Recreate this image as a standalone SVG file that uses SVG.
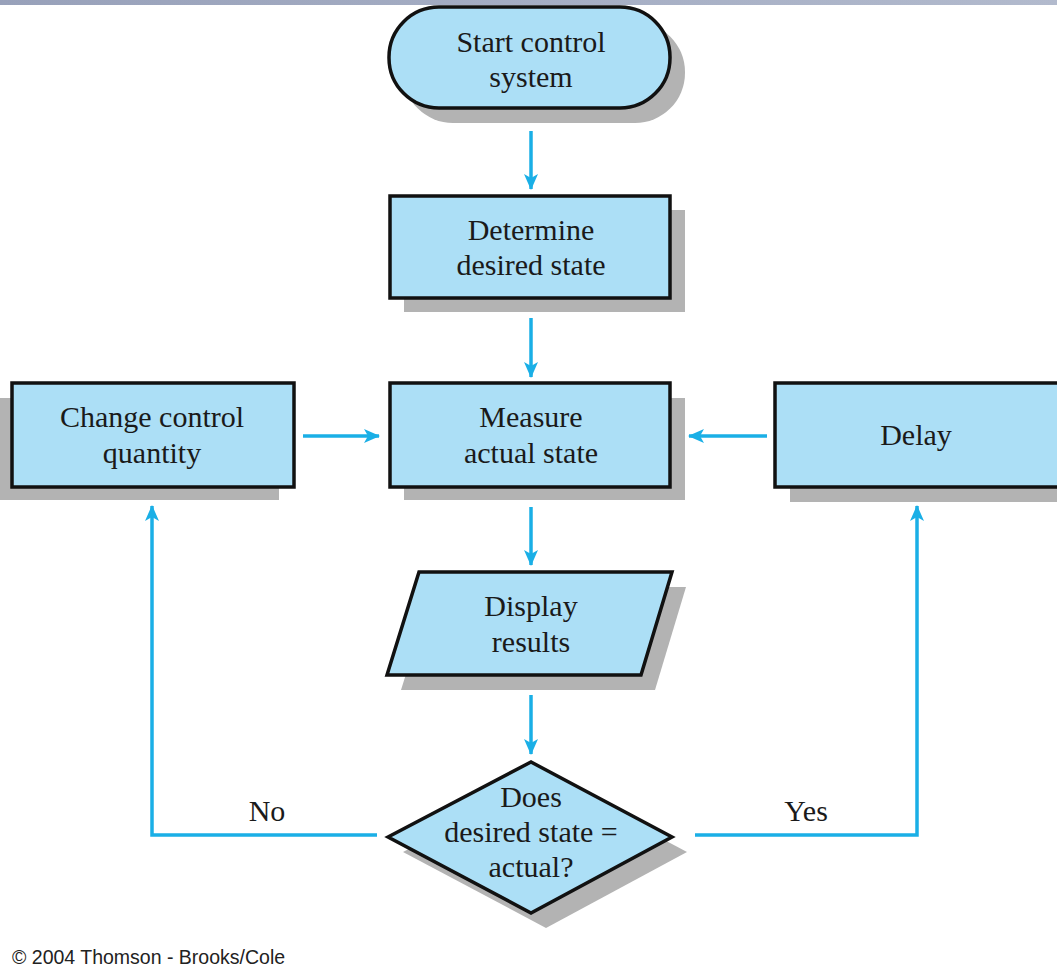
<svg xmlns="http://www.w3.org/2000/svg" width="1057" height="968" viewBox="0 0 1057 968">
<defs>
<linearGradient id="bar" x1="0" y1="0" x2="1" y2="0">
<stop offset="0" stop-color="#98a1ba"/>
<stop offset="1" stop-color="#b2bacd"/>
</linearGradient>
<marker id="ah" viewBox="0 0 16 14" refX="15" refY="7" markerWidth="17" markerHeight="14" markerUnits="userSpaceOnUse" orient="auto">
<path d="M0,0 L16,7 L0,14 L4,7 Z" fill="#1aafe6"/>
</marker>
<style>
.sh{fill:#b3b3b3;}
.nd{fill:#acdff6;stroke:#111;stroke-width:3.5;}
.t{font-family:"Liberation Serif","Times New Roman",serif;font-size:30px;fill:#1a1a1a;text-anchor:middle;}
.c{fill:none;stroke:#1aafe6;stroke-width:3.5;marker-end:url(#ah);}
</style>
</defs>
<rect x="0" y="0" width="1057" height="5" fill="url(#bar)"/>

<g id="start">
<rect class="sh" x="403" y="22" width="282" height="101" rx="50"/>
<rect class="nd" x="389" y="7" width="281" height="101" rx="50"/>
<text class="t" x="531" y="52">Start control</text>
<text class="t" x="531" y="87">system</text>
</g>

<g id="determine">
<rect class="sh" x="404" y="210" width="281" height="102"/>
<rect class="nd" x="390" y="196" width="280" height="102"/>
<text class="t" x="531" y="240">Determine</text>
<text class="t" x="531" y="275">desired state</text>
</g>

<g id="change">
<rect class="sh" x="-3" y="398" width="282" height="102"/>
<rect class="nd" x="12" y="383" width="282" height="104"/>
<text class="t" x="152" y="427">Change control</text>
<text class="t" x="152" y="463">quantity</text>
</g>

<g id="measure">
<rect class="sh" x="404" y="398" width="281" height="102"/>
<rect class="nd" x="390" y="383" width="280" height="104"/>
<text class="t" x="531" y="427">Measure</text>
<text class="t" x="531" y="463">actual state</text>
</g>

<g id="delay">
<rect class="sh" x="790" y="398" width="280" height="104"/>
<rect class="nd" x="775" y="383" width="290" height="104"/>
<text class="t" x="916" y="445">Delay</text>
</g>

<g id="display">
<polygon class="sh" points="433,587 686,587 655,690 401,690"/>
<polygon class="nd" points="419,572 672,572 641,675 387,675"/>
<text class="t" x="531" y="616">Display</text>
<text class="t" x="531" y="652">results</text>
</g>

<g id="decision">
<polygon class="sh" points="403,852 546,777 687,852 546,928"/>
<polygon class="nd" points="388,837 531,762 672,837 531,913"/>
<text class="t" x="531" y="807">Does</text>
<text class="t" x="531" y="842">desired state =</text>
<text class="t" x="531" y="877">actual?</text>
</g>

<g id="connectors">
<line class="c" x1="531" y1="131" x2="531" y2="189"/>
<line class="c" x1="531" y1="318" x2="531" y2="377"/>
<line class="c" x1="531" y1="507" x2="531" y2="565"/>
<line class="c" x1="531" y1="695" x2="531" y2="754"/>
<line class="c" x1="303" y1="436" x2="379" y2="436"/>
<line class="c" x1="767" y1="436" x2="689" y2="436"/>
<polyline class="c" points="377,835 152,835 152,506"/>
<polyline class="c" points="695,835 917,835 917,506"/>
<text class="t" x="267" y="821">No</text>
<text class="t" x="806" y="821">Yes</text>
</g>

<text x="12" y="964" font-family="Liberation Sans, Arial, sans-serif" font-size="19.5" fill="#222">© 2004 Thomson - Brooks/Cole</text>
</svg>
